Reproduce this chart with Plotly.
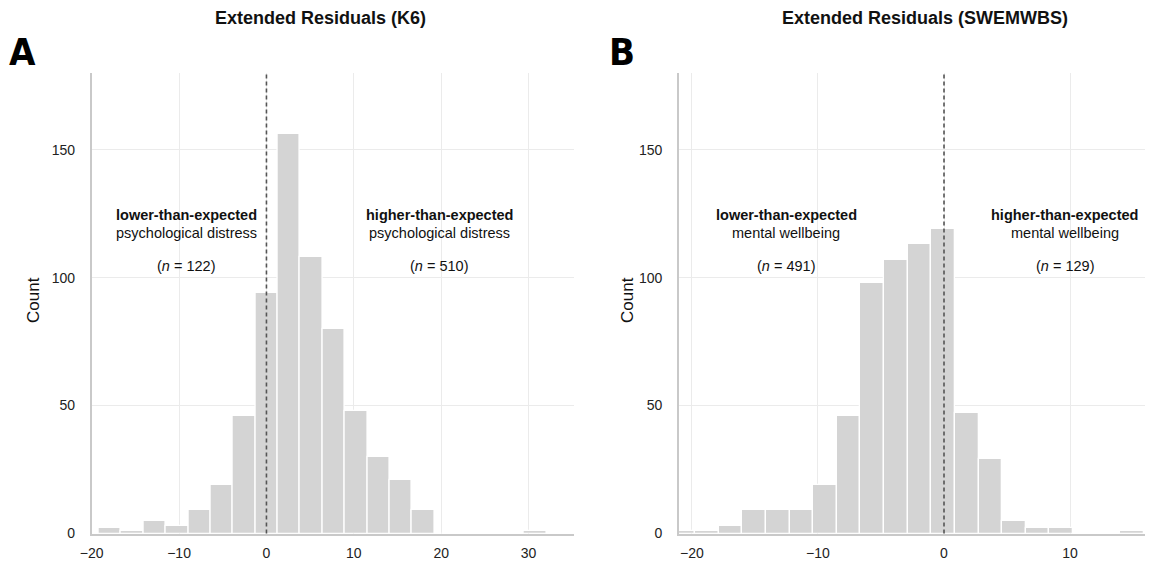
import plotly.graph_objects as go

W, H = 1155, 569

# ---------------- data ----------------
# Panel A: Extended residuals (K6)
k6_bin_start = -19.2
k6_bin_width = 2.5625
k6_counts = [2, 1, 5, 3, 9, 19, 46, 94, 156, 108, 80, 48, 30, 21, 9, 0, 0, 0, 0, 1]
k6_n_lower = 122
k6_n_higher = 510

# Panel B: Extended residuals (SWEMWBS)
sw_bin_start = -21.63
sw_bin_width = 1.875
sw_counts = [1, 1, 3, 9, 9, 9, 19, 46, 98, 107, 113, 119, 47, 29, 5, 2, 2, 0, 0, 1]
sw_n_lower = 491
sw_n_higher = 129

x_ticks_k6 = [-20, -10, 0, 10, 20, 30]
x_ticks_sw = [-20, -10, 0, 10]
y_ticks = [0, 50, 100, 150]

titles = ["Extended Residuals (K6)", "Extended Residuals (SWEMWBS)"]
panel_letters = ["A", "B"]
k6_labels = ["lower-than-expected", "psychological distress", "higher-than-expected", "psychological distress"]
sw_labels = ["lower-than-expected", "mental wellbeing", "higher-than-expected", "mental wellbeing"]

# ---------------- style ----------------
FONT = "Liberation Sans, Arial, Helvetica, sans-serif"
BAR = "#d4d4d4"
GRID = "#ebebeb"
AXIS = "#c9c9c9"
DASH = "#555555"


def centers(start, width, counts):
    return [start + width * (i + 0.5) for i in range(len(counts))]


def px_x(p):
    return p / W


def px_y(p):
    return 1 - p / H


fig = go.Figure()

fig.add_trace(go.Bar(
    x=centers(k6_bin_start, k6_bin_width, k6_counts), y=k6_counts, width=k6_bin_width,
    marker=dict(color=BAR, line=dict(color="white", width=1.3)),
    xaxis="x", yaxis="y", showlegend=False, hoverinfo="x+y"))
fig.add_trace(go.Bar(
    x=centers(sw_bin_start, sw_bin_width, sw_counts), y=sw_counts, width=sw_bin_width,
    marker=dict(color=BAR, line=dict(color="white", width=1.3)),
    xaxis="x2", yaxis="y2", showlegend=False, hoverinfo="x+y"))

ydom = [px_y(533.5), px_y(73)]
common_x = dict(showgrid=True, gridcolor=GRID, gridwidth=1.2, zeroline=False, automargin=False,
                showline=True, linecolor=AXIS, linewidth=1.8, ticks="",
                tickfont=dict(family=FONT, size=14, color="#222"), ticklabelstandoff=6)
common_y = dict(showgrid=True, gridcolor=GRID, gridwidth=1.2, zeroline=False, automargin=False,
                showline=True, linecolor=AXIS, linewidth=1.8, ticks="",
                tickfont=dict(family=FONT, size=14, color="#222"), ticklabelstandoff=12,
                range=[0, 180], tickvals=y_ticks)

fig.update_layout(
    width=W, height=H, margin=dict(l=0, r=0, t=0, b=0),
    paper_bgcolor="white", plot_bgcolor="white", bargap=0,
    xaxis=dict(domain=[px_x(91.7), px_x(574)], range=[-20.0, 35.2], tickvals=x_ticks_k6,
               ticktext=[str(v).replace("-", "\u2212") for v in x_ticks_k6], anchor="y", **common_x),
    yaxis=dict(domain=ydom, anchor="x", **common_y),
    xaxis2=dict(domain=[px_x(679), px_x(1145)], range=[-21.03, 15.95], tickvals=x_ticks_sw,
                ticktext=[str(v).replace("-", "\u2212") for v in x_ticks_sw], anchor="y2", **common_x),
    yaxis2=dict(domain=ydom, anchor="x2", **common_y),
    font=dict(family=FONT),
)

# dashed zero lines
for xr, yr in [("x", "y"), ("x2", "y2")]:
    fig.add_shape(type="line", xref=xr, yref=yr + " domain", x0=0, x1=0, y0=0, y1=1,
                  line=dict(color=DASH, width=1.6, dash="4px,3px"), layer="above")

# axis titles
for cx in [33, 627]:
    fig.add_annotation(text="Count", xref="paper", yref="paper", x=px_x(cx), y=px_y(300),
                       showarrow=False, textangle=-90, xanchor="center", yanchor="middle",
                       font=dict(family=FONT, size=17, color="#111"))

# titles and panel letters
for t, cx in zip(titles, [320, 925]):
    fig.add_annotation(text="<b>%s</b>" % t, xref="paper", yref="paper", x=px_x(cx), y=px_y(18),
                       showarrow=False, xanchor="center", yanchor="middle",
                       font=dict(family=FONT, size=18, color="#111"))
for L, lx in zip(panel_letters, [22.5, 621.5]):
    fig.add_annotation(text="<b>%s</b>" % L, xref="paper", yref="paper", x=px_x(lx), y=px_y(52),
                       showarrow=False, xanchor="center", yanchor="middle",
                       font=dict(family="Liberation Sans Narrow, DejaVu Sans Condensed, Liberation Sans, Arial, sans-serif",
                                 size=38, color="#000"))


def region_text(xr, yr, x, bold, plain, n):
    fig.add_annotation(text="<b>%s</b>" % bold, xref=xr, yref=yr, x=x, y=124.5, showarrow=False,
                       xanchor="center", yanchor="middle", font=dict(family=FONT, size=14.5, color="#111"))
    fig.add_annotation(text=plain, xref=xr, yref=yr, x=x, y=117.5, showarrow=False,
                       xanchor="center", yanchor="middle", font=dict(family=FONT, size=14.5, color="#111"))
    fig.add_annotation(text="(<i>n</i> = %d)" % n, xref=xr, yref=yr, x=x, y=104.5, showarrow=False,
                       xanchor="center", yanchor="middle", font=dict(family=FONT, size=14.5, color="#111"))


region_text("x", "y", -9.2, k6_labels[0], k6_labels[1], k6_n_lower)
region_text("x", "y", 19.8, k6_labels[2], k6_labels[3], k6_n_higher)
region_text("x2", "y2", -12.5, sw_labels[0], sw_labels[1], sw_n_lower)
region_text("x2", "y2", 9.6, sw_labels[2], sw_labels[3], sw_n_higher)

fig.write_html("out.html")
